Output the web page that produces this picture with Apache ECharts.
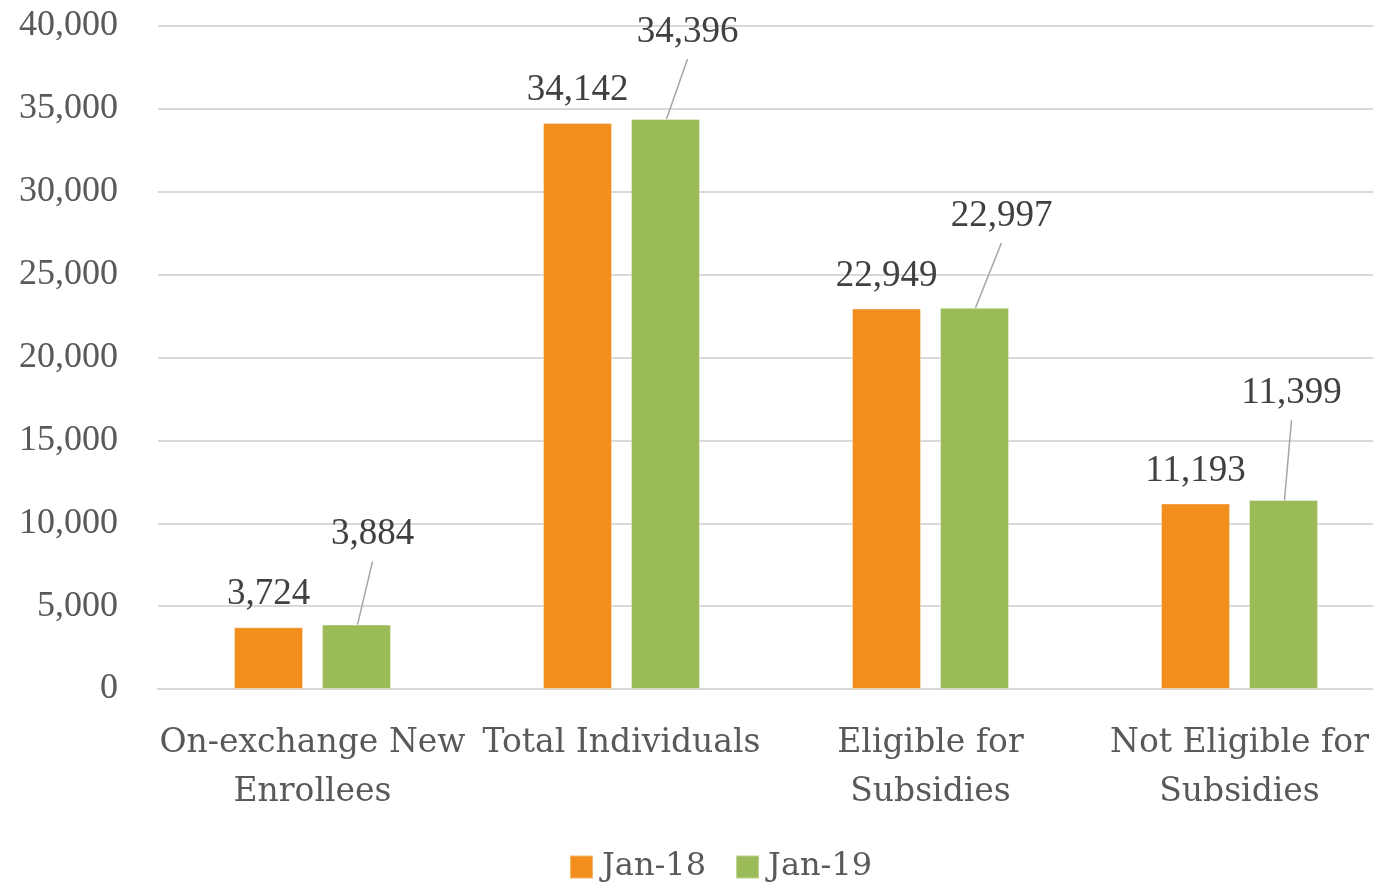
<!DOCTYPE html>
<html><head><meta charset="utf-8">
<script src="https://cdn.jsdelivr.net/npm/echarts@6/dist/echarts.min.js"></script>
<style>html,body{margin:0;padding:0;background:#fff}#c{width:1373px;height:882px}</style>
</head><body><div id="c"></div>
<script>
const categories = ['On-exchange New\nEnrollees', 'Total Individuals', 'Eligible for\nSubsidies', 'Not Eligible for\nSubsidies'];
const seriesNames = ['Jan-18', 'Jan-19'];
const jan18 = [3724, 34142, 22949, 11193];
const jan19 = [3884, 34396, 22997, 11399];
const yTicks = [0, 5000, 10000, 15000, 20000, 25000, 30000, 35000, 40000];

// label offsets (px) of the Jan-19 callouts relative to the bar top centre
const calloutDx = [16, 22, 27, 8];
const calloutDy = [-90, -87, -92, -107];

const BAR_W = 69, BAR_GAP = 19;
const NUMFONT = 'Liberation Serif';
const TXTFONT = 'DejaVu Serif';
const fmt = v => v.toLocaleString('en-US');
const chart = echarts.init(document.getElementById('c'));
chart.setOption({
  animation: false,
  grid: {left: 158, width: 1236, top: 26, bottom: 193, outerBoundsMode: 'none', containLabel: false},
  legend: {
    bottom: -6, left: 564, itemWidth: 23, itemHeight: 23, itemGap: 29,
    icon: 'rect',
    textStyle: {fontFamily: TXTFONT, fontSize: 32, color: '#595959', padding: [0,0,0,4]},
    data: seriesNames
  },
  xAxis: {
    type: 'category', data: categories,
    axisLine: {lineStyle: {color: '#d9d9d9', width: 2}},
    axisTick: {show: false},
    axisLabel: {fontFamily: TXTFONT, fontSize: 33, color: '#595959', lineHeight: 49, margin: 30, interval: 0}
  },
  yAxis: {
    type: 'value', min: yTicks[0], max: yTicks[yTicks.length-1], interval: 5000,
    axisLine: {show: false}, axisTick: {show: false},
    splitLine: {lineStyle: {color: '#d9d9d9', width: 2}},
    axisLabel: {fontFamily: NUMFONT, fontSize: 36, color: '#595959', margin: 40, formatter: v => fmt(v)}
  },
  series: [
    {
      name: seriesNames[0], type: 'bar', data: jan18, barWidth: BAR_W, barGap: (BAR_GAP / BAR_W * 100) + '%',
      itemStyle: {color: '#F28E1E', borderColor: 'rgba(255,255,255,0.35)', borderWidth: 1},
      label: {show: true, position: 'top', distance: 14, fontFamily: NUMFONT, fontSize: 37, color: '#404040', formatter: p => fmt(p.value)}
    },
    {
      name: seriesNames[1], type: 'bar', data: jan19, barWidth: BAR_W,
      itemStyle: {color: '#9BBB59', borderColor: 'rgba(255,255,255,0.35)', borderWidth: 1},
      label: {show: true, position: 'top', distance: 14, fontFamily: NUMFONT, fontSize: 37, color: '#404040', formatter: p => fmt(p.value)},
      labelLayout: function (p) {
        const i = p.dataIndex;
        const bx = p.rect.x + p.rect.width / 2;
        const by = p.rect.y;
        const lr = p.labelRect;
        return {
          dx: bx + calloutDx[i] - (lr.x + lr.width / 2),
          dy: by + calloutDy[i] - (lr.y + lr.height / 2)
        };
      }
    },
    {
      name: 'callout', type: 'custom', silent: true, z: 3,
      data: jan19.map((v, i) => [i, v]),
      renderItem: function (params, api) {
        const i = params.dataIndex;
        const p = api.coord([api.value(0), api.value(1)]);
        const bx = p[0] + (BAR_W + BAR_GAP) / 2;
        return {
          type: 'line',
          shape: {x1: bx + 1, y1: p[1], x2: bx + calloutDx[i], y2: p[1] + calloutDy[i] + 27},
          style: {stroke: '#a6a6a6', lineWidth: 1.5}
        };
      }
    }
  ]
});
</script></body></html>
